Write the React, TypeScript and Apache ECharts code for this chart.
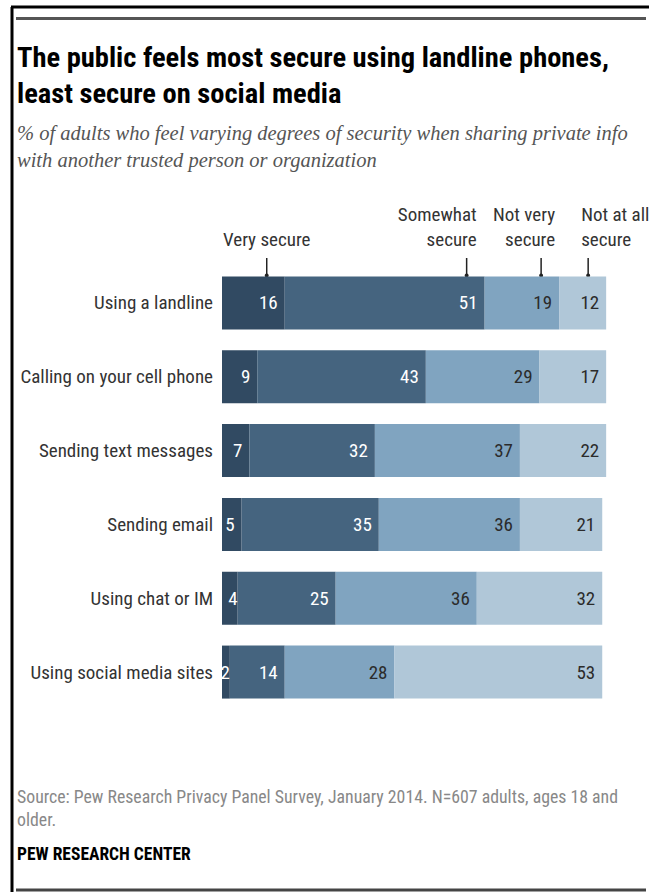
import React, { useEffect, useRef } from "react";
import * as echarts from "echarts";

const categories = [
  "Using a landline",
  "Calling on your cell phone",
  "Sending text messages",
  "Sending email",
  "Using chat or IM",
  "Using social media sites",
];
const seriesNames = ["Very secure", "Somewhat secure", "Not very secure", "Not at all secure"];
const verySecure = [16, 9, 7, 5, 4, 2];
const somewhatSecure = [51, 43, 32, 35, 25, 14];
const notVerySecure = [19, 29, 37, 36, 36, 28];
const notAtAllSecure = [12, 17, 22, 21, 32, 53];
const colors = ["#314a62", "#45647f", "#80a4c0", "#b0c7d8"];
const labelColors = ["#ffffff", "#ffffff", "#2b2b2b", "#2b2b2b"];

const COND = "'Roboto Condensed', 'Liberation Sans Narrow', 'Arial Narrow', sans-serif";
const SERIF = "'Liberation Serif', 'DejaVu Serif', serif";

export default function App() {
  const ref = useRef<HTMLDivElement>(null);
  useEffect(() => {
    if (!ref.current) return;
    const chart = echarts.init(ref.current, null, { renderer: "svg" });
    const all = [verySecure, somewhatSecure, notVerySecure, notAtAllSecure];
    const series = all.map((vals, i) => ({
      type: "bar",
      name: seriesNames[i],
      stack: "total",
      barWidth: 53,
      data: vals.map((v) => ({
        value: v,
        label: i === 0 && v <= 4 ? { position: "insideRight", distance: 0 } : undefined,
      })),
      itemStyle: { color: colors[i] },
      label: {
        show: true,
        position: "insideRight",
        distance: 7,
        color: labelColors[i],
        fontFamily: COND,
        fontSize: 19,
      },
    }));

    const option: any = {
      animation: false,
      backgroundColor: "#ffffff",
      grid: { left: 222, width: 392, top: 266, height: 443, containLabel: false },
      xAxis: { type: "value", min: 0, max: 100, show: false },
      yAxis: {
        type: "category",
        data: categories,
        inverse: true,
        axisLine: { show: false },
        axisTick: { show: false },
        axisLabel: { margin: 9, fontFamily: COND, fontSize: 19, color: "#333333" },
      },
      series,
    };
    chart.setOption(option);

    const cum: number[] = [];
    let s = 0;
    all.forEach((vals) => {
      s += vals[0];
      cum.push(s);
    });
    const tickX = cum.map((c) => (chart.convertToPixel({ xAxisIndex: 0 }, c) as number) - 18);
    const barTop = (chart.convertToPixel({ yAxisIndex: 0 }, 0) as number) - 26.5;

    const annText = (x: number, y: number, text: string, align: string) => ({
      type: "text",
      x,
      y,
      style: {
        text,
        fontFamily: COND,
        fontSize: 19,
        fill: "#333333",
        align,
        verticalAlign: "bottom",
        lineHeight: 25,
      },
    });

    const graphic: any[] = [
      { type: "line", shape: { x1: 11, y1: 7, x2: 649, y2: 7 }, style: { stroke: "#000", lineWidth: 3 } },
      { type: "line", shape: { x1: 12, y1: 7, x2: 12, y2: 892 }, style: { stroke: "#000", lineWidth: 3 } },
      { type: "line", shape: { x1: 16, y1: 18.5, x2: 646, y2: 18.5 }, style: { stroke: "#555", lineWidth: 3 } },
      { type: "line", shape: { x1: 16, y1: 890, x2: 646, y2: 890 }, style: { stroke: "#444", lineWidth: 3 } },
      {
        type: "text",
        x: 17,
        y: 39,
        style: {
          text: "The public feels most secure using landline phones,\nleast secure on social media",
          fontFamily: COND,
          fontWeight: "bold",
          fontSize: 28.5,
          lineHeight: 36,
          fill: "#000",
        },
      },
      {
        type: "text",
        x: 17,
        y: 119,
        style: {
          text: "% of adults who feel varying degrees of security when sharing private info\nwith another trusted person or organization",
          fontFamily: SERIF,
          fontStyle: "italic",
          fontSize: 20.5,
          lineHeight: 27,
          fill: "#555555",
        },
      },
      {
        type: "text",
        x: 17,
        y: 785,
        style: {
          text: "Source: Pew Research Privacy Panel Survey, January 2014. N=607 adults, ages 18 and\nolder.",
          fontFamily: COND,
          fontSize: 17.8,
          lineHeight: 23,
          fill: "#888888",
        },
      },
      {
        type: "text",
        x: 17,
        y: 845,
        style: {
          text: "PEW RESEARCH CENTER",
          fontFamily: COND,
          fontWeight: "bold",
          fontSize: 17.5,
          fill: "#000",
        },
      },
      annText(tickX[0], 252, "Very secure", "center"),
      annText(tickX[1] + 10, 252, "Somewhat\nsecure", "right"),
      annText(tickX[2] + 14, 252, "Not very\nsecure", "right"),
      annText(tickX[3] - 7, 252, "Not at all\nsecure", "left"),
    ];
    tickX.forEach((x) => {
      graphic.push({
        type: "line",
        shape: { x1: x, y1: 258, x2: x, y2: barTop },
        style: { stroke: "#222", lineWidth: 1.5 },
      });
      graphic.push({
        type: "circle",
        shape: { cx: x, cy: barTop - 1, r: 2 },
        style: { fill: "#222" },
      });
    });
    chart.setOption({ graphic });
    return () => chart.dispose();
  }, []);
  return (
    <div
      ref={ref}
      style={{ position: "fixed", left: 0, top: 0, width: 649, height: 892 }}
    />
  );
}
